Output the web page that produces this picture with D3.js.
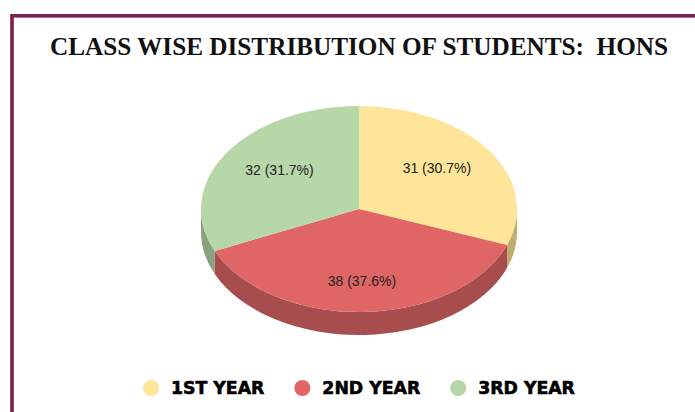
<!DOCTYPE html>
<html>
<head>
<meta charset="utf-8">
<script src="https://cdn.jsdelivr.net/npm/d3@7"></script>
<style>
  body { margin: 0; background: #fff; }
  svg { display: block; }
</style>
</head>
<body>
<div id="chart"></div>
<script>
const categories = ["1ST YEAR", "2ND YEAR", "3RD YEAR"];
const counts = [31, 38, 32];
const percentLabels = ["30.7%", "37.6%", "31.7%"];
const titleText = "CLASS WISE DISTRIBUTION OF STUDENTS:  HONS";

(() => {
    const width = 695, height = 412;
    const cx = 359, cy = 209, rx = 158, ry = 103, depth = 23;

    const topColors = ["#ffe599", "#e06666", "#b6d7a8"];
    const sideColors = ["#bfac73", "#a84d4d", "#88a17e"];

    const svg = d3.select("#chart")
        .append("svg")
        .attr("width", width)
        .attr("height", height);

    // frame
    svg.append("rect")
        .attr("x", 12).attr("y", 15.8)
        .attr("width", 800).attr("height", 500)
        .attr("fill", "none")
        .attr("stroke", "#7a1f50")
        .attr("stroke-width", 3.6);

    // title, fitted to the same width as the original
    const title = svg.append("text")
        .attr("x", cx).attr("y", 55)
        .attr("text-anchor", "middle")
        .style("font-family", "'Liberation Serif', 'Times New Roman', serif")
        .style("font-weight", "bold")
        .style("font-size", "20px")
        .style("white-space", "pre")
        .style("fill", "#111")
        .text(titleText);
    const tw = title.node().getComputedTextLength();
    title.style("font-size", (20 * 618 / tw).toFixed(2) + "px");

    const data = categories.map((c, i) => ({ name: c, value: counts[i], pct: percentLabels[i], i }));
    const arcs = d3.pie().sort(null).value(d => d.value)(data);

    const pt = (a, dy = 0, f = 1) => [cx + rx * f * Math.sin(a), cy - ry * f * Math.cos(a) + dy];

    // side walls: only the front half (pi/2 .. 3pi/2) is visible
    const g = svg.append("g");
    g.selectAll(".side")
        .data(arcs.filter(d => d.endAngle > Math.PI / 2 && d.startAngle < 3 * Math.PI / 2))
        .enter()
        .append("path")
        .attr("class", "side")
        .attr("fill", d => sideColors[d.data.i])
        .attr("d", d => {
            const a0 = Math.max(d.startAngle, Math.PI / 2);
            const a1 = Math.min(d.endAngle, 3 * Math.PI / 2);
            const p0 = pt(a0), p1 = pt(a1), q1 = pt(a1, depth), q0 = pt(a0, depth);
            return `M${p0}A${rx},${ry} 0 0 1 ${p1}L${q1}A${rx},${ry} 0 0 0 ${q0}Z`;
        });

    // top faces
    g.selectAll(".slice")
        .data(arcs)
        .enter()
        .append("path")
        .attr("class", "slice")
        .attr("fill", d => topColors[d.data.i])
        .attr("d", d => {
            const p0 = pt(d.startAngle), p1 = pt(d.endAngle);
            const large = d.endAngle - d.startAngle > Math.PI ? 1 : 0;
            return `M${cx},${cy}L${p0}A${rx},${ry} 0 ${large} 1 ${p1}Z`;
        });

    g.selectAll(".label")
        .data(arcs)
        .enter()
        .append("text")
        .attr("class", "label")
        .attr("x", d => cx + rx * 0.6 * Math.sin((d.startAngle + d.endAngle) / 2))
        .attr("y", d => cy - ry * 0.7 * Math.cos((d.startAngle + d.endAngle) / 2))
        .attr("dy", "0.35em")
        .attr("text-anchor", "middle")
        .style("font-family", "'Liberation Sans', Arial, sans-serif")
        .style("font-size", "14px")
        .style("fill", "#222")
        .text(d => `${d.data.value} (${d.data.pct})`);

    // legend
    const legend = svg.append("g");
    const r = 8, gapText = 12, gapItem = 30;
    const items = legend.selectAll(".item")
        .data(categories)
        .enter()
        .append("g")
        .attr("class", "item");
    items.append("circle")
        .attr("r", r)
        .attr("cy", 388)
        .attr("fill", (d, i) => topColors[i]);
    items.append("text")
        .attr("y", 388)
        .attr("dy", "0.36em")
        .style("font-family", "'DejaVu Sans', sans-serif")
        .style("font-weight", "bold")
        .style("font-size", "17.3px")
        .style("fill", "#000")
        .style("stroke", "#000")
        .style("stroke-width", "0.6px")
        .text(d => d);

    const widths = items.nodes().map(n => d3.select(n).select("text").node().getComputedTextLength());
    const total = d3.sum(widths) + categories.length * (2 * r + gapText) + (categories.length - 1) * gapItem;
    let x = cx - total / 2;
    items.each(function(d, i) {
        const it = d3.select(this);
        it.select("circle").attr("cx", x + r);
        it.select("text").attr("x", x + 2 * r + gapText);
        x += 2 * r + gapText + widths[i] + gapItem;
    });
})();
</script>
</body>
</html>
